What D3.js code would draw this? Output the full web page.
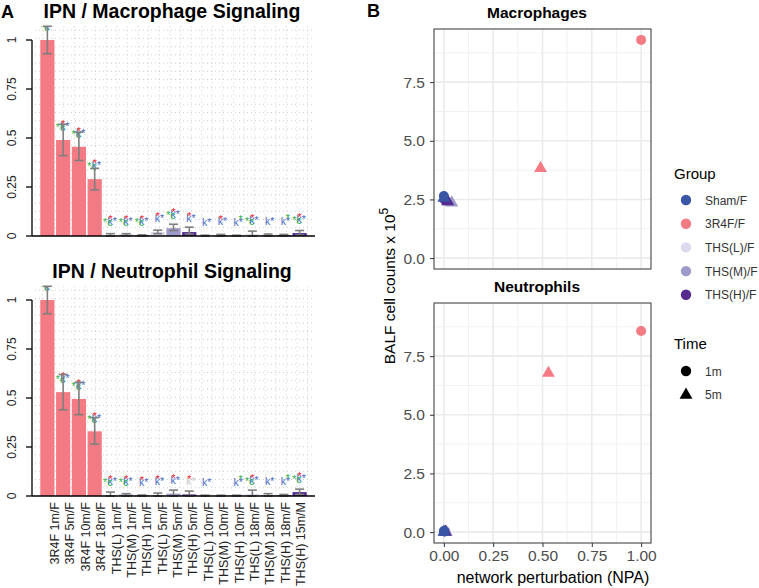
<!DOCTYPE html>
<html>
<head>
    <meta charset="utf-8">
    <script src="https://d3js.org/d3.v7.min.js"></script>
    <style>
        body { margin: 0; background: #fff; }
        text { font-family: "Liberation Sans", Arial, sans-serif; }
    </style>
</head>
<body>
<script>
    // ---- panel A data ----
    var barLabels = ["3R4F 1m/F", "3R4F 5m/F", "3R4F 10m/F", "3R4F 18m/F",
        "THS(L) 1m/F", "THS(M) 1m/F", "THS(H) 1m/F",
        "THS(L) 5m/F", "THS(M) 5m/F", "THS(H) 5m/F",
        "THS(L) 10m/F", "THS(M) 10m/F", "THS(H) 10m/F",
        "THS(L) 18m/F", "THS(M) 18m/F", "THS(H) 18m/F", "THS(H) 15m/M"];
    var barGroup = ["3R4F", "3R4F", "3R4F", "3R4F", "L", "M", "H", "L", "M", "H", "L", "M", "H", "L", "M", "H", "H"];

    var macroValue = [1.0, 0.49, 0.455, 0.29, 0.005, 0.007, 0.004, 0.02, 0.04, 0.02, 0.002, 0.004, 0.002, 0.01, 0.005, 0.004, 0.015];
    var macroLo = [0.93, 0.41, 0.385, 0.235, 0.0, 0.002, 0.0, 0.012, 0.028, 0.01, 0.0, 0.0, 0.0, 0.0, 0.0, 0.0, 0.005];
    var macroHi = [1.07, 0.57, 0.53, 0.345, 0.012, 0.012, 0.006, 0.03, 0.06, 0.045, 0.004, 0.008, 0.004, 0.025, 0.01, 0.008, 0.028];
    var macroMarks = ["grb", "grb", "grb", "grb", "grb", "grb", "grb", "rb", "grb", "rb", "b", "rb", "bs", "grb", "b", "bs", "grb"];

    var neutroValue = [1.0, 0.53, 0.495, 0.33, 0.005, 0.008, 0.002, 0.005, 0.012, 0.008, 0.002, 0.002, 0.002, 0.01, 0.004, 0.004, 0.02];
    var neutroLo = [0.93, 0.44, 0.415, 0.265, 0.0, 0.0, 0.0, 0.0, 0.0, 0.0, 0.0, 0.0, 0.0, 0.0, 0.0, 0.0, 0.008];
    var neutroHi = [1.07, 0.62, 0.58, 0.4, 0.02, 0.012, 0.005, 0.015, 0.03, 0.025, 0.004, 0.004, 0.004, 0.03, 0.012, 0.008, 0.035];
    var neutroMarks = ["grb", "grb", "grb", "grb", "grb", "grb", "rb", "rb", "rb", "rx", "b", "", "bs", "grb", "b", "bs", "grb"];

    var barTicks = [0, 0.25, 0.5, 0.75, 1];
    var barTickLabels = ["0", "0.25", "0.5", "0.75", "1"];

    // ---- panel B data ----
    var groups = ["Sham/F", "3R4F/F", "THS(L)/F", "THS(M)/F", "THS(H)/F"];
    var groupColors = ["#3a55a6", "#f47a83", "#dcdaed", "#9e9aca", "#552b8f"];
    var times = ["1m", "5m"];

    var ptGroup = ["THS(L)/F", "THS(L)/F", "THS(M)/F", "THS(M)/F", "THS(H)/F", "THS(H)/F", "Sham/F", "Sham/F", "3R4F/F", "3R4F/F"];
    var ptTime = ["1m", "5m", "1m", "5m", "1m", "5m", "5m", "1m", "1m", "5m"];
    var macroNPA = [0.005, 0.02, 0.007, 0.04, 0.004, 0.02, 0.0, 0.0, 1.0, 0.49];
    var macroCells = [2.45, 2.45, 2.45, 2.4, 2.5, 2.45, 2.6, 2.65, 9.3, 3.87];
    var neutroNPA = [0.005, 0.005, 0.008, 0.012, 0.002, 0.008, 0.0, 0.0, 1.0, 0.53];
    var neutroCells = [0.03, 0.05, 0.03, 0.05, 0.03, 0.05, 0.05, 0.05, 8.57, 6.82];

    var xTicks = [0, 0.25, 0.5, 0.75, 1];
    var yTicks = [0, 2.5, 5, 7.5];

    var barColor = { "3R4F": "#f47a83", "L": "#dcdaed", "M": "#9e9aca", "H": "#552b8f" };

    var svg = d3.select("body").append("svg")
        .attr("width", 759)
        .attr("height", 588);

    svg.append("text").attr("x", 1).attr("y", 18).text("A")
        .style("font-weight", "bold").style("font-size", "18px");
    svg.append("text").attr("x", 367).attr("y", 17).text("B")
        .style("font-weight", "bold").style("font-size", "18px");

    function drawBarPanel(title, y0, values, lo, hi, marks, showLabels, clipId) {
        // y0 = pixel of value 0
        var x = d3.scaleBand().domain(barLabels).range([39.5, 307.5]).paddingInner(0.1).paddingOuter(0.05);
        var xl = d3.scalePoint().domain(barLabels).range([54.5, 300.5]);
        var y = d3.scaleLinear().domain([0, 1]).range([y0, y0 - 196]);
        var g = svg.append("g");

        g.append("text").attr("x", 172).attr("y", y0 - 218).attr("text-anchor", "middle")
            .text(title).style("font-weight", "bold").style("font-size", "19.5px");

        var left = 32, right = 315, top = y(1.07);
        svg.append("clipPath").attr("id", clipId).append("rect")
            .attr("x", left).attr("y", top).attr("width", right - left).attr("height", y0 - top);

        // dotted grid
        d3.range(0, 1.06, 0.042).forEach(function (v) {
            g.append("line").attr("x1", left + 3).attr("x2", right).attr("y1", y(v)).attr("y2", y(v))
                .style("stroke", "#cfcfcf").style("stroke-width", 1).style("stroke-dasharray", "1,3");
        });
        d3.range(left + 10.6, right, 10.6).forEach(function (v) {
            g.append("line").attr("x1", v).attr("x2", v).attr("y1", top).attr("y2", y0)
                .style("stroke", "#cfcfcf").style("stroke-width", 1).style("stroke-dasharray", "1,3");
        });

        // bars
        g.selectAll("rect.bar").data(values).enter().append("rect")
            .attr("x", function (d, i) { return x(barLabels[i]); })
            .attr("width", x.bandwidth())
            .attr("y", function (d) { return y(d); })
            .attr("height", function (d) { return y0 - y(d); })
            .style("fill", function (d, i) { return barColor[barGroup[i]]; });

        var ann = g.append("g").attr("clip-path", "url(#" + clipId + ")");

        // error bars
        values.forEach(function (d, i) {
            var cx = x(barLabels[i]) + x.bandwidth() / 2;
            var e = g.append("g").style("stroke", "#7f7f7f").style("stroke-width", 1.6);
            e.append("line").attr("x1", cx).attr("x2", cx).attr("y1", y(lo[i])).attr("y2", y(hi[i]));
            e.append("line").attr("x1", cx - 4.5).attr("x2", cx + 4.5).attr("y1", y(lo[i])).attr("y2", y(lo[i]));
            e.append("line").attr("x1", cx - 4.5).attr("x2", cx + 4.5).attr("y1", y(hi[i])).attr("y2", y(hi[i]));

            // significance marks
            var ty = y(d + 0.07) + 4;
            var m = marks[i];
            var fs = "10.5px";
            if (m.indexOf("b") >= 0) {
                ann.append("text").attr("x", cx - 3).attr("y", ty).text("k*")
                    .style("fill", "#4a6bc4").style("font-size", fs);
            }
            if (m.indexOf("x") >= 0) {
                ann.append("text").attr("x", cx - 3).attr("y", ty).text("k*")
                    .style("fill", "#c8c8c8").style("font-size", fs);
            }
            if (m.indexOf("g") >= 0) {
                ann.append("text").attr("x", cx + 2).attr("y", ty + 1).attr("text-anchor", "end").text("*c")
                    .style("fill", "#2db34a").style("font-size", fs);
            }
            if (m.indexOf("s") >= 0) {
                ann.append("text").attr("x", cx + 2).attr("y", ty - 3).text("*")
                    .style("fill", "#2db34a").style("font-size", fs);
            }
            if (m.indexOf("r") >= 0) {
                ann.append("text").attr("x", cx).attr("y", ty - 2).attr("text-anchor", "middle").text("*")
                    .style("fill", "#e8242b").style("font-size", fs);
            }
        });

        // axes
        g.append("line").attr("x1", 32).attr("x2", 315).attr("y1", y0).attr("y2", y0)
            .style("stroke", "#000").style("stroke-width", 1.3);
        g.append("line").attr("x1", 32).attr("x2", 32).attr("y1", y(0)).attr("y2", y(1))
            .style("stroke", "#000").style("stroke-width", 1.3);
        barTicks.forEach(function (t, i) {
            g.append("line").attr("x1", 26).attr("x2", 32).attr("y1", y(t)).attr("y2", y(t))
                .style("stroke", "#000").style("stroke-width", 1.3);
            g.append("text").attr("transform", "translate(15.5," + y(t) + ") rotate(-90)")
                .attr("text-anchor", "middle").text(barTickLabels[i])
                .style("font-size", "12px").style("fill", "#222");
        });

        if (showLabels) {
            barLabels.forEach(function (lab) {
                var cx = xl(lab) + 4.5;
                g.append("text").attr("transform", "translate(" + cx + "," + (y0 + 6) + ") rotate(-90)")
                    .attr("text-anchor", "end").text(lab)
                    .style("font-size", "12.5px").style("fill", "#222");
            });
        }
    }

    drawBarPanel("IPN / Macrophage Signaling", 236, macroValue, macroLo, macroHi, macroMarks, false, "clipA1");
    drawBarPanel("IPN / Neutrophil Signaling", 496, neutroValue, neutroLo, neutroHi, neutroMarks, true, "clipA2");

    // ---- panel B ----
    var colorScale = d3.scaleOrdinal().domain(groups).range(groupColors);
    var xB = d3.scaleLinear().domain([-0.05, 1.05]).range([434, 651]);

    function drawFacet(title, top, npa, cells, showXAxis) {
        var bottom = top + 240;
        var yB = d3.scaleLinear().domain([-0.465, 9.765]).range([bottom, top]);
        var g = svg.append("g");

        g.append("text").attr("x", 537).attr("y", top - 11).attr("text-anchor", "middle")
            .text(title).style("font-weight", "bold").style("font-size", "15.5px");

        // minor grid
        [0.125, 0.375, 0.625, 0.875].forEach(function (v) {
            g.append("line").attr("x1", xB(v)).attr("x2", xB(v)).attr("y1", top).attr("y2", bottom)
                .style("stroke", "#f2f2f2").style("stroke-width", 1);
        });
        [1.25, 3.75, 6.25, 8.75].forEach(function (v) {
            g.append("line").attr("x1", 434).attr("x2", 651).attr("y1", yB(v)).attr("y2", yB(v))
                .style("stroke", "#f2f2f2").style("stroke-width", 1);
        });
        // major grid
        xTicks.forEach(function (v) {
            g.append("line").attr("x1", xB(v)).attr("x2", xB(v)).attr("y1", top).attr("y2", bottom)
                .style("stroke", "#ebebeb").style("stroke-width", 1.6);
        });
        yTicks.forEach(function (v) {
            g.append("line").attr("x1", 434).attr("x2", 651).attr("y1", yB(v)).attr("y2", yB(v))
                .style("stroke", "#ebebeb").style("stroke-width", 1.6);
        });

        // points
        var tri = d3.symbol().type(d3.symbolTriangle).size(72);
        npa.forEach(function (v, i) {
            var px = xB(v), py = yB(cells[i]);
            if (ptTime[i] === "1m") {
                g.append("circle").attr("cx", px).attr("cy", py).attr("r", 5)
                    .style("fill", colorScale(ptGroup[i]));
            } else {
                g.append("path").attr("d", tri).attr("transform", "translate(" + px + "," + (py + 1) + ")")
                    .style("fill", colorScale(ptGroup[i]));
            }
        });

        g.append("rect").attr("x", 434).attr("y", top).attr("width", 217).attr("height", 240)
            .style("fill", "none").style("stroke", "#333").style("stroke-width", 1);

        var yAxis = d3.axisLeft(yB).tickValues(yTicks).tickFormat(d3.format(".1f")).tickSize(4).tickPadding(5);
        var ya = g.append("g").attr("transform", "translate(434,0)").call(yAxis);
        ya.select(".domain").remove();
        ya.selectAll("text").style("font-size", "15.5px").style("fill", "#4d4d4d")
            .style("font-family", "Liberation Sans, Arial, sans-serif");
        ya.selectAll("line").style("stroke", "#333");

        if (showXAxis) {
            var xAxis = d3.axisBottom(xB).tickValues(xTicks).tickFormat(d3.format(".2f")).tickSize(4).tickPadding(3);
            var xa = g.append("g").attr("transform", "translate(0," + bottom + ")").call(xAxis);
            xa.select(".domain").remove();
            xa.selectAll("text").style("font-size", "15.5px").style("fill", "#4d4d4d")
                .style("font-family", "Liberation Sans, Arial, sans-serif");
            xa.selectAll("line").style("stroke", "#333");
        }
    }

    drawFacet("Macrophages", 29, macroNPA, macroCells, false);
    drawFacet("Neutrophils", 303, neutroNPA, neutroCells, true);

    svg.append("text").attr("x", 553).attr("y", 583).attr("text-anchor", "middle")
        .text("network perturbation (NPA)").style("font-size", "16px");

    var yt = svg.append("text").attr("transform", "translate(395,286) rotate(-90)")
        .attr("text-anchor", "middle").style("font-size", "15.5px");
    yt.append("tspan").text("BALF cell counts x 10");
    yt.append("tspan").text("5").attr("dy", -7).style("font-size", "12px");

    // legend
    var lg = svg.append("g");
    lg.append("text").attr("x", 674).attr("y", 179).text("Group").style("font-size", "15px");
    groups.forEach(function (grp, i) {
        var ly = 200 + i * 23.7;
        lg.append("circle").attr("cx", 686).attr("cy", ly).attr("r", 5.2).style("fill", colorScale(grp));
        lg.append("text").attr("x", 705).attr("y", ly + 4.5).text(grp).style("font-size", "12px").style("fill", "#333");
    });
    lg.append("text").attr("x", 674).attr("y", 349).text("Time").style("font-size", "15px");
    times.forEach(function (t, i) {
        var ly = 371 + i * 23;
        if (i === 0) {
            lg.append("circle").attr("cx", 686).attr("cy", ly).attr("r", 5.2).style("fill", "#000");
        } else {
            lg.append("path").attr("d", d3.symbol().type(d3.symbolTriangle).size(72))
                .attr("transform", "translate(686," + (ly + 1) + ")").style("fill", "#000");
        }
        lg.append("text").attr("x", 705).attr("y", ly + 4.5).text(t).style("font-size", "12px").style("fill", "#333");
    });
</script>
</body>
</html>
